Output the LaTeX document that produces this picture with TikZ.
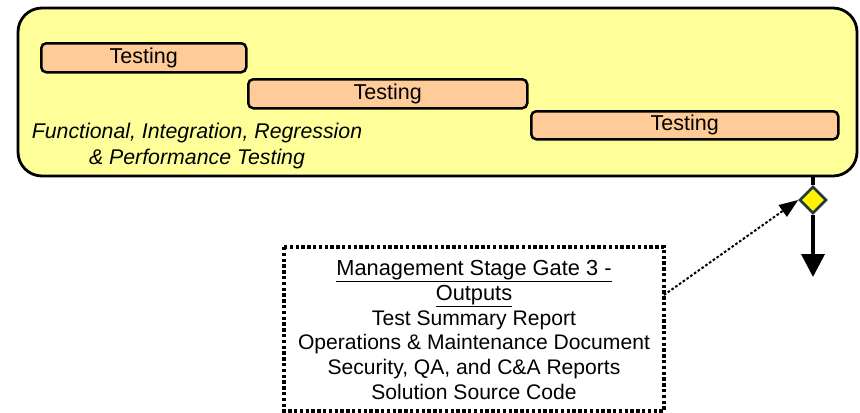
\documentclass[tikz,border=0pt]{standalone}
\usepackage{fontspec}
\setmainfont{Liberation Sans}
\usetikzlibrary{shapes.geometric,arrows.meta}
\definecolor{phasefill}{HTML}{FFFF99}
\definecolor{taskfill}{HTML}{FFCC99}
\definecolor{gateedge}{HTML}{1F3A3A}
\tikzset{
  phase/.style={draw=black, line width=2.8bp, rounded corners=24bp, fill=phasefill},
  task/.style={draw=black, line width=2.5bp, rounded corners=5bp, fill=taskfill,
               inner sep=0pt, font=\fontsize{21.5bp}{24bp}\selectfont},
  gate/.style={diamond, draw=gateedge, fill=yellow, line width=2.6bp,
               minimum width=27bp, minimum height=27bp, inner sep=0pt},
  outbox/.style={draw=black, line width=3.2bp, dash pattern=on 3.4bp off 2.4bp},
  flow/.style={line width=3.6bp, -{Triangle[length=23bp,width=23bp]}},
  link/.style={line width=2bp, dash pattern=on 2.6bp off 2bp,
               -{Triangle[length=19bp,width=14bp]}},
}
\newcommand{\titleline}[1]{\underline{\fontsize{21.8bp}{24.8bp}\selectfont #1}}
\begin{document}
\begin{tikzpicture}[x=1bp,y=-1bp]
\useasboundingbox (0,0) rectangle (860,412);

% testing phase container
\draw[phase] (18,8) rectangle (857,176);
\coordinate (phasebot) at (813,176);

% overlapping testing tasks
\node[task, minimum width=205bp, minimum height=29bp, anchor=north west] (t1) at (40,42) {Testing};
\node[task, minimum width=279bp, minimum height=29bp, anchor=north west] (t2) at (247,78) {Testing};
\node[task, minimum width=307bp, minimum height=28bp, anchor=north west] (t3) at (530,110) {Testing};

\node[font=\itshape\fontsize{21.3bp}{26bp}\selectfont, align=center, inner sep=0pt] (kinds) at (197,146)
  {Functional, Integration, Regression\\\& Performance Testing};

% stage gate and flow out of the phase
\node[gate] (gate) at (813,200) {};
\coordinate (flowend) at (813,277);
\draw[line width=3.6bp] (phasebot) -- (gate.north);
\draw[flow] (gate.south) -- (flowend);

% gate outputs
\draw[outbox] (284,247) rectangle (664,411);
\node[align=center, inner sep=0pt, font=\fontsize{21.1bp}{24.8bp}\selectfont] (outs) at (474,330)
  {\titleline{Management Stage Gate 3 -}\\\titleline{Outputs}\\Test Summary Report\\
   Operations \& Maintenance Document\\Security, QA, and C\&A Reports\\Solution Source Code};
\coordinate (outsedge) at (664,295);
\draw[link] (outsedge) -- (gate.west);
\end{tikzpicture}
\end{document}
